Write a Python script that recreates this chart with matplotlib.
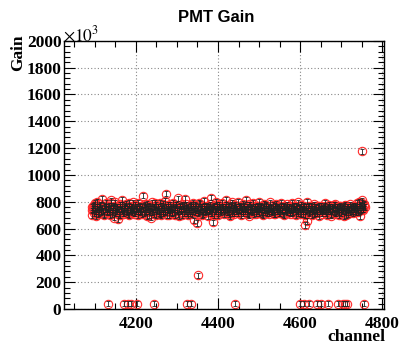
import numpy as np
import matplotlib.pyplot as plt
from matplotlib.ticker import MultipleLocator

# gain per channel (x1000), every 2nd channel from 4092
first_channel = 4092
gain = [
    760, 700, 745, 775, 730, 690, 760, 800, 740, 715, 770, 725, 750, 820, 735, 705, 765, 745, 790, 720,
    740, 770, 700, 755, 810, 730, 760, 680, 745, 795, 725, 765, 670, 740, 780, 700, 750, 815, 735, 760,
    710, 755, 785, 730, 745, 700, 770, 740, 760, 720, 795, 735, 750, 710, 765, 745, 725, 790, 760, 730,
    750, 705, 845, 740, 770, 720, 760, 690, 785, 745, 730, 765, 680, 750, 795, 725, 760, 740, 700, 775,
    735, 760, 715, 790, 745, 700, 770, 730, 755, 805, 720, 860, 745, 765, 700, 780, 735, 750, 715, 790,
    740, 760, 700, 775, 730, 825, 750, 690, 765, 735, 780, 745, 710, 770, 820, 730, 755, 700, 760, 740,
    715, 775, 745, 730, 790, 660, 750, 770, 640, 735, 760, 720, 785, 745, 700, 765, 730, 805, 750, 725,
    770, 740, 690, 760, 735, 830, 750, 715, 645, 770, 745, 800, 725, 760, 700, 780, 740, 755, 720, 790,
    745, 705, 765, 735, 815, 750, 720, 770, 740, 690, 760, 795, 730, 755, 710, 775, 745, 725, 800, 760,
    735, 770, 700, 750, 785, 725, 760, 740, 815, 715, 765, 745, 695, 780, 735, 755, 720, 790, 745, 760,
    710, 770, 745, 730, 800, 755, 720, 765, 740, 700, 785, 750, 735, 770, 715, 760, 745, 795, 730, 755,
    720, 775, 740, 760, 705, 785, 745, 730, 765, 715, 750, 790, 735, 760, 700, 770, 745, 725, 780, 750,
    735, 765, 710, 755, 790, 740, 720, 770, 745, 700, 760, 795, 730, 750, 715, 775, 740, 760, 705, 745,
    625, 730, 800, 655, 760, 720, 745, 770, 700, 750, 735, 780, 715, 760, 740, 725, 765, 690, 750, 735,
    770, 710, 745, 760, 725, 790, 740, 700, 755, 775, 730, 745, 695, 765, 740, 720, 780, 750, 710, 760,
    735, 755, 700, 770, 745, 725, 760, 690, 750, 775, 720, 745, 765, 705, 740, 780, 730, 755, 715, 760,
    745, 770, 720, 790, 750, 735, 800, 690, 770, 755, 810, 740, 785, 760,
]
# the channels in between (4093, 4095, ...)
gain_b = [
    735, 770, 715, 750, 790, 725, 745, 705, 765, 740, 780, 720, 755, 730, 770, 700, 745, 760, 725, 750,
    765, 720, 745, 790, 705, 755, 735, 770, 715, 750, 760, 725, 745, 700, 765, 740, 730, 775, 710, 745,
    770, 730, 720, 760, 705, 790, 735, 750, 725, 765, 740, 710, 775, 745, 730, 760, 700, 750, 770, 720,
    730, 765, 740, 710, 755, 780, 725, 745, 760, 700, 770, 735, 750, 720, 745, 765, 705, 790, 740, 730,
    760, 725, 750, 705, 770, 745, 715, 785, 740, 730, 760, 700, 775, 735, 750, 720, 765, 740, 710, 755,
    720, 745, 775, 735, 760, 705, 740, 770, 725, 750, 700, 765, 745, 730, 755, 780, 715, 745, 725, 770,
    760, 730, 705, 765, 745, 720, 775, 735, 750, 710, 790, 740, 725, 760, 735, 705, 770, 745, 720, 760,
    735, 760, 725, 745, 780, 710, 755, 740, 765, 700, 730, 750, 775, 715, 745, 765, 725, 735, 760, 740,
    760, 730, 745, 775, 720, 740, 765, 705, 750, 780, 735, 715, 745, 770, 740, 725, 760, 745, 715, 735,
    755, 725, 760, 740, 710, 770, 745, 730, 750, 765, 705, 780, 740, 725, 760, 745, 730, 705, 765, 740,
    745, 725, 765, 750, 715, 740, 770, 705, 755, 735, 760, 720, 775, 745, 730, 750, 710, 740, 765, 725,
    750, 735, 705, 770, 745, 725, 760, 755, 715, 740, 770, 730, 745, 705, 765, 735, 755, 760, 720, 740,
    760, 720, 745, 735, 710, 765, 750, 740, 725, 770, 735, 715, 755, 745, 765, 705, 750, 725, 770, 740,
    700, 760, 735, 745, 710, 770, 730, 750, 760, 725, 745, 705, 765, 735, 715, 755, 740, 770, 725, 750,
    740, 755, 725, 735, 770, 715, 750, 760, 725, 740, 765, 705, 750, 730, 755, 775, 715, 740, 760, 730,
    750, 720, 765, 740, 715, 755, 735, 770, 725, 745, 700, 760, 735, 750, 720, 745, 760, 725, 770, 745,
    730, 755, 765, 740, 720, 760, 745, 775, 735, 790, 745, 765, 775,
]
channels = first_channel + 2 * np.arange(len(gain))
channels_b = first_channel + 1 + 2 * np.arange(len(gain_b))

# dead / odd channels
dead_channels = [4132, 4171, 4180, 4188, 4202, 4244, 4324, 4334, 4442, 4600,
                 4610, 4622, 4642, 4650, 4668, 4692, 4705, 4710, 4715, 4755]
dead_gain = [40] * len(dead_channels)
odd_channels = [4352, 4751]
odd_gain = [250, 1175]
gain_err = 20

x = np.concatenate([channels, channels_b, dead_channels, odd_channels])
y = np.concatenate([gain, gain_b, dead_gain, odd_gain])

fig = plt.figure(figsize=(4.01, 3.46), dpi=100)
ax = fig.add_axes([0.160, 0.107, 0.798, 0.775])

# red open circles, black error bars drawn on top (ROOT look)
ax.plot(x, y, 'o', ms=6, mfc='none', mec='#ff2a2a', mew=0.8, zorder=2)
ax.errorbar(x, y, yerr=gain_err, fmt='none', ecolor='#202020', elinewidth=0.6,
            capsize=1.2, capthick=0.6, zorder=3)

ax.set_xlim(4025, 4805)
ax.set_ylim(0, 2000)
ax.xaxis.set_major_locator(MultipleLocator(200))
ax.xaxis.set_minor_locator(MultipleLocator(50))
ax.yaxis.set_major_locator(MultipleLocator(200))
ax.yaxis.set_minor_locator(MultipleLocator(40))
ax.grid(True, which='major', color='#888888', linestyle=(0, (1, 2)), linewidth=0.8)
ax.tick_params(which='both', direction='in', top=True, right=True, width=0.8)
ax.tick_params(which='major', length=8)
ax.tick_params(which='minor', length=4)
for s in ax.spines.values():
    s.set_linewidth(1.0)

serif = {'family': 'Liberation Serif', 'weight': 'bold', 'size': 12.5}
for lab in ax.get_xticklabels() + ax.get_yticklabels():
    lab.set_fontproperties('Liberation Serif')
    lab.set_fontweight('bold')
    lab.set_fontsize(12.5)
ax.tick_params(axis='x', pad=5)
ax.tick_params(axis='y', pad=2)

fig.text(0.54, 0.95, 'PMT Gain', ha='center', va='center',
         family='Liberation Sans', weight='bold', size=12)
fig.text(0.962, 0.025, 'channel', ha='right', va='center', **serif)
fig.text(0.045, 0.90, 'Gain', ha='center', va='top', rotation=90, **serif)
fig.text(0.157, 0.90, r'$\times10^{3}$', ha='left', va='center',
         fontsize=12.5, math_fontfamily='stix')

plt.savefig('out.png', dpi=100)
